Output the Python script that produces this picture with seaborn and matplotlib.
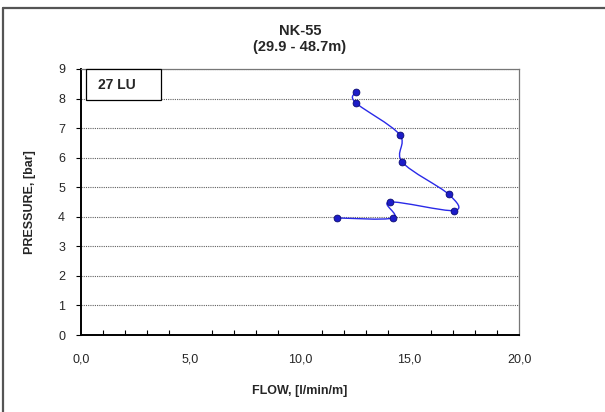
import numpy as np
import pandas as pd
import matplotlib
matplotlib.use("Agg")
import matplotlib.pyplot as plt
import seaborn as sns
from matplotlib.path import Path
from matplotlib.patches import PathPatch, Rectangle
from matplotlib.lines import Line2D

# values
flow = [12.54, 12.54, 14.55, 14.67, 16.79, 17.03, 14.09, 14.25, 11.69]
pressure = [8.21, 7.86, 6.78, 5.85, 4.76, 4.21, 4.50, 3.96, 3.96]
x_ticks = [0, 5, 10, 15, 20]
x_labels = ["0,0", "5,0", "10,0", "15,0", "20,0"]
y_ticks = list(range(0, 10))

sns.set_theme(style="white")
plt.rcParams["font.family"] = ["Liberation Sans", "DejaVu Sans"]

df = pd.DataFrame({"flow": flow, "pressure": pressure})

W, H = 605, 412
fig = plt.figure(figsize=(W / 100, H / 100), dpi=100)
fig.patch.set_facecolor("white")

# chart-area frame: only top and left edges are inside the image
top = 1 - 7.5 / H
left = 2.5 / W
fig.lines.append(Line2D([left, 1.01], [top, top], transform=fig.transFigure,
                        color="#555555", linewidth=1.6))
fig.lines.append(Line2D([left, left], [-0.01, top], transform=fig.transFigure,
                        color="#555555", linewidth=1.6))

ax = fig.add_axes([81 / W, (H - 335) / H, (519 - 81) / W, (335 - 69) / H])

# smoothed connecting line (Excel-like Catmull-Rom Bezier)
pts = df[["flow", "pressure"]].to_numpy()
verts = [tuple(pts[0])]
codes = [Path.MOVETO]
n = len(pts)
for i in range(n - 1):
    p0 = pts[i - 1] if i > 0 else pts[i]
    p1 = pts[i]
    p2 = pts[i + 1]
    p3 = pts[i + 2] if i + 2 < n else pts[i + 1]
    c1 = p1 + (p2 - p0) / 6
    c2 = p2 - (p3 - p1) / 6
    verts += [tuple(c1), tuple(c2), tuple(p2)]
    codes += [Path.CURVE4] * 3
ax.add_patch(PathPatch(Path(verts, codes), facecolor="none",
                       edgecolor="#2a2ae8", linewidth=1.0, zorder=3))

sns.scatterplot(data=df, x="flow", y="pressure", ax=ax, s=24,
                color="#1c1cc8", edgecolor="#0a0a70", linewidth=0.6,
                zorder=4, legend=False)

ax.set_xlim(0, 20)
ax.set_ylim(0, 9)
ax.set_xticks(x_ticks)
ax.set_xticklabels(x_labels)
ax.set_xticks(np.arange(0, 21, 1), minor=True)
ax.set_yticks(y_ticks)

ax.yaxis.grid(True, linestyle=(0, (1, 1)), color="#606060", linewidth=0.8)
ax.xaxis.grid(False)
ax.set_axisbelow(True)

ax.tick_params(axis="x", which="major", direction="inout", length=7,
               width=0.8, color="black", labelsize=9, pad=10)
ax.tick_params(axis="x", which="minor", direction="in", length=3.5,
               width=0.8, color="black", bottom=True)
ax.tick_params(axis="y", which="major", direction="out", length=3.5,
               width=0.8, color="black", labelsize=9, pad=8, left=True)

for side in ["left", "bottom"]:
    ax.spines[side].set_color("black")
    ax.spines[side].set_linewidth(1.4)
for side in ["top", "right"]:
    ax.spines[side].set_color("#777777")
    ax.spines[side].set_linewidth(0.9)

ax.set_xlabel("FLOW, [l/min/m]", fontsize=9, fontweight="bold", labelpad=14)
ax.set_ylabel("PRESSURE, [bar]", fontsize=9, fontweight="bold", labelpad=16)
ax.set_title("NK-55\n(29.9 - 48.7m)", fontsize=10.5, fontweight="bold",
             linespacing=1.15, pad=13)

# "27 LU" label box
ax.add_patch(Rectangle((0.0107, 0.883), 0.172, 0.117, transform=ax.transAxes,
                       facecolor="white", edgecolor="black", linewidth=0.9,
                       zorder=5, clip_on=False))
ax.text(0.039, 0.941, "27 LU", transform=ax.transAxes, ha="left",
        va="center", fontsize=10, fontweight="bold", zorder=6)

fig.savefig("out.png", dpi=100)
